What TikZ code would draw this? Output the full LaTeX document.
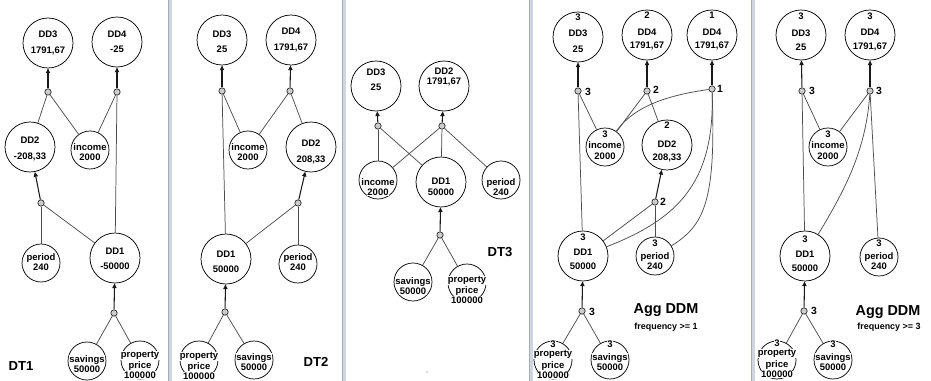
\documentclass[tikz,border=0pt]{standalone}
\usepackage{fontspec}
\setmainfont{Liberation Sans}
\usetikzlibrary{arrows.meta}
\setlength\fboxsep{0.4pt}
\newcommand\wb[1]{\colorbox{white}{#1}}
\definecolor{sepc}{RGB}{208,214,224}
\definecolor{sepd}{RGB}{165,173,187}
\begin{document}
\begin{tikzpicture}[x=0.75pt,y=-0.75pt,
 ring/.style={circle,draw=black,line width=0.55pt,inner sep=0pt,fill=white},
 big/.style={ring,minimum size=37.5pt},
 sml/.style={ring,minimum size=28.5pt},
 hub/.style={circle,draw=black!85,fill=gray!40,line width=0.5pt,inner sep=0pt,minimum size=4.8pt},
 edge/.style={draw=black!70,line width=0.55pt},
 arr/.style={draw=black!90,line width=0.8pt,-{Triangle[length=3.6pt,width=3.2pt]}},
 tx/.style={font=\bfseries\fontsize{7.1}{7.9}\selectfont,align=center,inner sep=0pt},
 txb/.style={font=\bfseries\fontsize{7.1}{11.5}\selectfont,align=center,inner sep=0pt},
 hl/.style={font=\bfseries\fontsize{7.8}{8}\selectfont,inner sep=0pt},
 title/.style={font=\bfseries\fontsize{9.8}{11}\selectfont,inner sep=0pt},
 agg/.style={font=\bfseries\fontsize{10.8}{12}\selectfont,inner sep=0pt},
 freq/.style={font=\bfseries\fontsize{6.7}{8}\selectfont,inner sep=0pt},
]
\useasboundingbox (0,0) rectangle (931,381);
\fill[white] (0,0) rectangle (931,381);
% separators
\foreach \sx in {170,344,531,753}{
  \draw[sepc,line width=2.4pt] (\sx,0) -- (\sx,381);
  \draw[sepd,line width=0.6pt] (\sx-1.5,0) -- (\sx-1.5,381);
}

% ================= Panel 1 =================
\node[big] (p1dd3) at (48,43) {};
\node[big] (p1dd4) at (117,42) {};
\node[big] (p1dd2) at (30,147) {};
\node[sml] (p1inc) at (90,150) {};
\node[sml] (p1per) at (41,263) {};
\node[big] (p1dd1) at (115,258) {};
\node[sml] (p1sav) at (87,361) {};
\node[sml] (p1pp) at (140,360) {};
\node[hub] (p1h3) at (48,92) {};
\node[hub] (p1h4) at (117,92) {};
\node[hub] (p1h2) at (41,203) {};
\node[hub] (p1h1) at (114,313) {};
\draw[arr] (p1h3) -- (p1dd3);
\draw[arr] (p1h4) -- (p1dd4);
\draw[arr] (p1h2) -- (p1dd2);
\draw[arr] (p1h1) -- (p1dd1);
\draw[edge] (p1h3) -- (p1dd2);
\draw[edge] (p1h3) -- (p1inc);
\draw[edge] (p1h4) -- (p1inc);
\draw[edge] (p1h4) -- (p1dd1);
\draw[edge] (p1h2) -- (p1per);
\draw[edge] (p1h2) -- (p1dd1);
\draw[edge] (p1h1) -- (p1sav);
\draw[edge] (p1h1) -- (p1pp);
\node[txb] (p1dd3t) at (48,43) {\wb{DD3}\\\wb{1791,67}};
\node[txb] (p1dd4t) at (117,42) {\wb{DD4}\\\wb{-25}};
\node[txb] (p1dd2t) at (30,149) {\wb{DD2}\\\wb{-208,33}};
\node[tx] (p1inct) at (90,152) {\wb{income}\\\wb{2000}};
\node[tx] (p1pert) at (41,262) {\wb{period}\\\wb{240}};
\node[txb] (p1dd1t) at (115,259) {\wb{DD1}\\\wb{-50000}};
\node[tx] (p1savt) at (87,364) {\wb{savings}\\\wb{50000}};
\node[tx] (p1ppt) at (140,365) {\wb{property}\\\wb{price}\\\wb{100000}};
\node[title] (p1lab) at (21,366) {DT1};

% ================= Panel 2 =================
\node[big] (p2dd3) at (222,40) {};
\node[big] (p2dd4) at (291,40) {};
\node[sml] (p2inc) at (248,150) {};
\node[big] (p2dd2) at (311,147) {};
\node[big] (p2dd1) at (226,259) {};
\node[sml] (p2per) at (298,264) {};
\node[sml] (p2pp) at (199,360) {};
\node[sml] (p2sav) at (254,360) {};
\node[hub] (p2h3) at (222,91) {};
\node[hub] (p2h4) at (290,91) {};
\node[hub] (p2h2) at (298,203) {};
\node[hub] (p2h1) at (225,312) {};
\draw[arr] (p2h3) -- (p2dd3);
\draw[arr] (p2h4) -- (p2dd4);
\draw[arr] (p2h2) -- (p2dd2);
\draw[arr] (p2h1) -- (p2dd1);
\draw[edge] (p2h3) -- (p2inc);
\draw[edge] (p2h3) -- (p2dd1);
\draw[edge] (p2h4) -- (p2inc);
\draw[edge] (p2h4) -- (p2dd2);
\draw[edge] (p2h2) -- (p2per);
\draw[edge] (p2h2) -- (p2dd1);
\draw[edge] (p2h1) -- (p2pp);
\draw[edge] (p2h1) -- (p2sav);
\node[txb] (p2dd3t) at (222,42) {\wb{DD3}\\\wb{25}};
\node[txb] (p2dd4t) at (291,40) {\wb{DD4}\\\wb{1791,67}};
\node[tx] (p2inct) at (248,152) {\wb{income}\\\wb{2000}};
\node[txb] (p2dd2t) at (311,152) {\wb{DD2}\\\wb{208,33}};
\node[txb] (p2dd1t) at (226,262) {\wb{DD1}\\\wb{50000}};
\node[tx] (p2pert) at (298,262) {\wb{period}\\\wb{240}};
\node[tx] (p2ppt) at (199,366) {\wb{property}\\\wb{price}\\\wb{100000}};
\node[tx] (p2savt) at (254,362) {\wb{savings}\\\wb{50000}};
\node[title] (p2lab) at (316,362) {DT2};

% ================= Panel 3 =================
\node[big] (p3dd3) at (376,86) {};
\node[big] (p3dd2) at (444,86) {};
\node[sml] (p3inc) at (378,180) {};
\node[big] (p3dd1) at (441,182) {};
\node[sml] (p3per) at (501,180) {};
\node[sml] (p3sav) at (413,282) {};
\node[sml] (p3pp) at (467,283) {};
\node[hub] (p3h3) at (378,126) {};
\node[hub] (p3h2) at (442,126) {};
\node[hub] (p3h1) at (440,235) {};
\draw[arr] (p3h3) -- (p3dd3);
\draw[arr] (p3h2) -- (p3dd2);
\draw[arr] (p3h1) -- (p3dd1);
\draw[edge] (p3h3) -- (p3inc);
\draw[edge] (p3h3) -- (p3dd1);
\draw[edge] (p3h2) -- (p3inc);
\draw[edge] (p3h2) -- (p3dd1);
\draw[edge] (p3h2) -- (p3per);
\draw[edge] (p3h1) -- (p3sav);
\draw[edge] (p3h1) -- (p3pp);
\node[txb] (p3dd3t) at (376,80) {\wb{DD3}\\\wb{25}};
\node[tx] (p3dd2t) at (444,77) {\wb{DD2}\\\wb{1791,67}};
\node[tx] (p3inct) at (378,187) {\wb{income}\\\wb{2000}};
\node[tx] (p3dd1t) at (441,187) {\wb{DD1}\\\wb{50000}};
\node[tx] (p3pert) at (501,187) {\wb{period}\\\wb{240}};
\node[tx] (p3savt) at (413,286) {\wb{savings}\\\wb{50000}};
\node[tx] (p3ppt) at (467,290) {\wb{property}\\\wb{price}\\\wb{100000}};
\node[title] (p3lab) at (500,252) {DT3};
\fill[black!60] (427,372) circle (0.5pt);

% ================= Panel 4 =================
\node[big] (p4dd3) at (578,37) {};
\node[big] (p4dd4a) at (647,35) {};
\node[big] (p4dd4b) at (712,35) {};
\node[sml] (p4inc) at (605,147) {};
\node[big] (p4dd2) at (667,145) {};
\node[big] (p4dd1) at (583,256) {};
\node[sml] (p4per) at (655,256) {};
\node[sml] (p4pp) at (553,360) {};
\node[sml] (p4sav) at (610,360) {};
\node[hub] (p4h3) at (578,91) {};
\node[hub] (p4h4a) at (647,91) {};
\node[hub] (p4h4b) at (712,89) {};
\node[hub] (p4h2) at (655,202) {};
\node[hub] (p4h1) at (582,311) {};
\draw[arr] (p4h3) -- (p4dd3);
\draw[arr] (p4h4a) -- (p4dd4a);
\draw[arr] (p4h4b) -- (p4dd4b);
\draw[arr] (p4h2) -- (p4dd2);
\draw[arr] (p4h1) -- (p4dd1);
\draw[edge] (p4h3) -- (p4inc);
\draw[edge] (p4h3) -- (p4dd1);
\draw[edge] (p4h4a) -- (p4inc);
\draw[edge] (p4h4a) -- (p4dd2);
\draw[edge] (p4h4b) .. controls (670,95) and (635,105) .. (p4inc);
\draw[edge] (p4h4b) .. controls (715,185) and (675,220) .. (p4dd1);
\draw[edge] (p4h4b) .. controls (716,200) and (705,225) .. (p4per);
\draw[edge] (p4h2) -- (p4per);
\draw[edge] (p4h2) -- (p4dd1);
\draw[edge] (p4h1) -- (p4pp);
\draw[edge] (p4h1) -- (p4sav);
\node[hl] (p4h3l) at (588,92) {3};
\node[hl] (p4h4al) at (656,90) {2};
\node[hl] (p4h4bl) at (720,89) {1};
\node[hl] (p4h2l) at (663,202) {2};
\node[hl] (p4h1l) at (592,312) {3};
\node[txb] (p4dd3t) at (578,33) {\wb{3}\\[1pt]\wb{DD3}\\\wb{25}};
\node[txb] (p4dd4at) at (647,31) {\wb{2}\\[1pt]\wb{DD4}\\[-2pt]\wb{1791,67}};
\node[txb] (p4dd4bt) at (712,31) {\wb{1}\\[1pt]\wb{DD4}\\[-2pt]\wb{1791,67}};
\node[tx] (p4inct) at (605,145) {\wb{3}\\[1pt]\wb{income}\\\wb{2000}};
\node[txb] (p4dd2t) at (667,142) {\wb{2}\\[3pt]\wb{DD2}\\[-2pt]\wb{208,33}};
\node[txb] (p4dd1t) at (583,252) {\wb{3}\\\wb{DD1}\\[-1pt]\wb{50000}};
\node[tx] (p4pert) at (655,255) {\wb{3}\\[1.5pt]\wb{period}\\\wb{240}};
\node[tx] (p4ppt) at (553,360) {\wb{3}\\[-1.5pt]\wb{property}\\[1pt]\wb{price}\\\wb{100000}};
\node[tx] (p4savt) at (610,356) {\wb{3}\\[1.5pt]\wb{savings}\\\wb{50000}};
\node[agg] (p4lab) at (666,310) {Agg DDM};
\node[freq] (p4freq) at (666,327) {frequency >= 1};

% ================= Panel 5 =================
\node[big] (p5dd3) at (801,35) {};
\node[big] (p5dd4) at (870,35) {};
\node[sml] (p5inc) at (828,147) {};
\node[big] (p5dd1) at (805,256) {};
\node[sml] (p5per) at (879,257) {};
\node[sml] (p5pp) at (777,360) {};
\node[sml] (p5sav) at (833,360) {};
\node[hub] (p5h3) at (802,91) {};
\node[hub] (p5h4) at (870,91) {};
\node[hub] (p5h1) at (804,311) {};
\draw[arr] (p5h3) -- (p5dd3);
\draw[arr] (p5h4) -- (p5dd4);
\draw[arr] (p5h1) -- (p5dd1);
\draw[edge] (p5h3) -- (p5inc);
\draw[edge] (p5h3) -- (p5dd1);
\draw[edge] (p5h4) -- (p5inc);
\draw[edge] (p5h4) .. controls (866,150) and (845,190) .. (p5dd1);
\draw[edge] (p5h4) -- (p5per);
\draw[edge] (p5h1) -- (p5pp);
\draw[edge] (p5h1) -- (p5sav);
\node[hl] (p5h3l) at (812,91) {3};
\node[hl] (p5h4l) at (879,91) {3};
\node[hl] (p5h1l) at (814,311) {3};
\node[txb] (p5dd3t) at (801,32) {\wb{3}\\[1pt]\wb{DD3}\\[-1pt]\wb{25}};
\node[txb] (p5dd4t) at (870,32) {\wb{3}\\[1pt]\wb{DD4}\\[-1pt]\wb{1791,67}};
\node[tx] (p5inct) at (828,145) {\wb{3}\\[1pt]\wb{income}\\\wb{2000}};
\node[txb] (p5dd1t) at (805,254) {\wb{3}\\\wb{DD1}\\[-1pt]\wb{50000}};
\node[tx] (p5pert) at (879,255) {\wb{3}\\[1.5pt]\wb{period}\\\wb{240}};
\node[tx] (p5ppt) at (777,359) {\wb{3}\\[-1.5pt]\wb{property}\\[1pt]\wb{price}\\\wb{100000}};
\node[tx] (p5savt) at (833,356) {\wb{3}\\[1.5pt]\wb{savings}\\\wb{50000}};
\node[agg] (p5lab) at (888,312) {Agg DDM};
\node[freq] (p5freq) at (889,327) {frequency >= 3};
\end{tikzpicture}
\end{document}
